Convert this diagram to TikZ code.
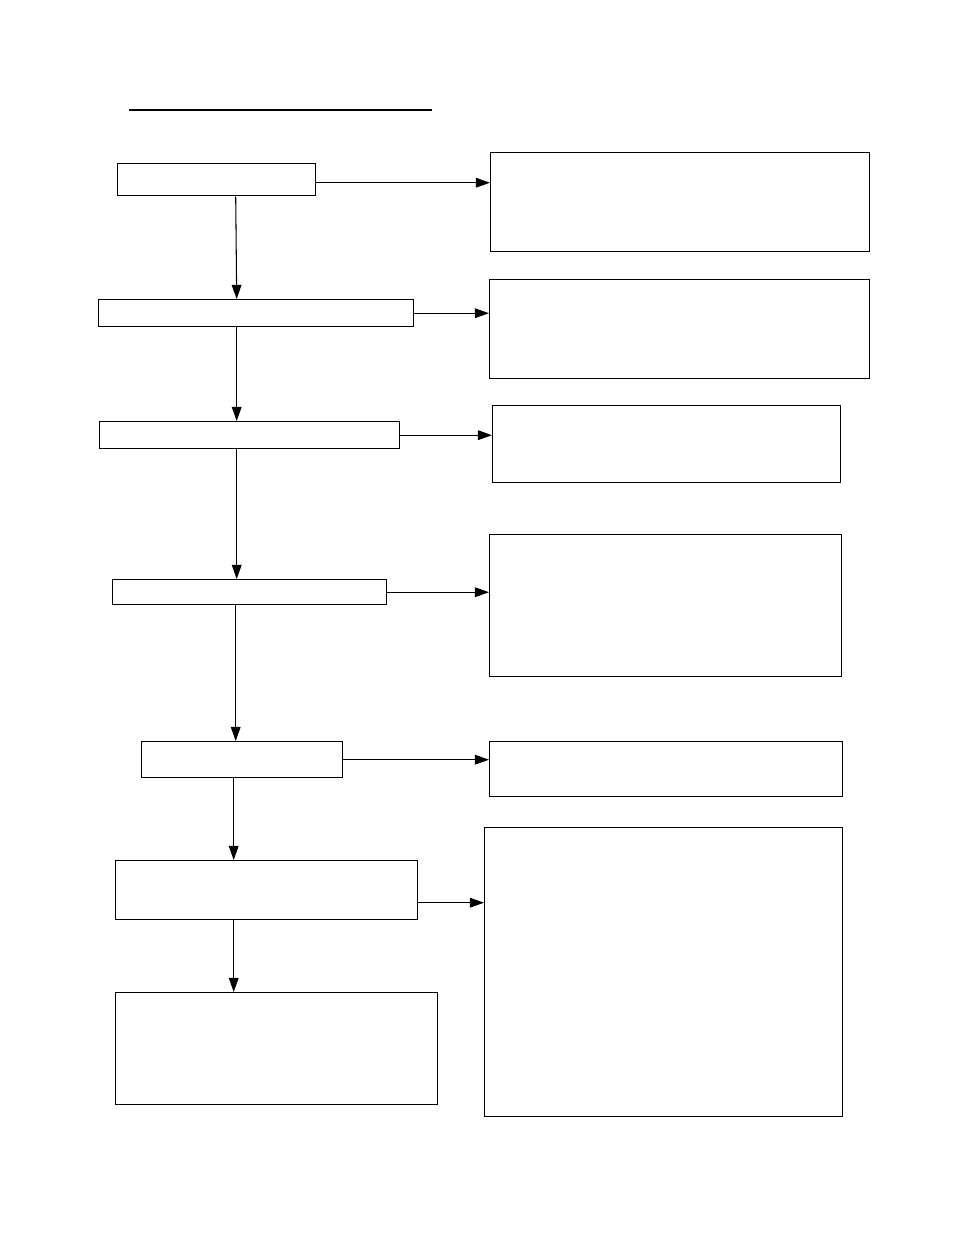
\documentclass[tikz,border=0pt]{standalone}
\usetikzlibrary{arrows.meta}
\newcommand\px[1]{#1*0.02cm}
\begin{document}
\begin{tikzpicture}[x=0.02cm,y=-0.02cm,box/.style={draw, thick, inner sep=0pt, anchor=north west},link/.style={semithick, -{Triangle[length=8pt,width=5.5pt]}}]%
\path[use as bounding box] (0,0) rectangle (954,1235);%
\draw[thick] (129,110) -- (432,110);%
  % left column%
\node[box, minimum width=\px{198}, minimum height=\px{32}] (step1) at (117,163) {};%
\node[box, minimum width=\px{315}, minimum height=\px{27}] (step2) at (98,299) {};%
\node[box, minimum width=\px{300}, minimum height=\px{27}] (step3) at (99,421) {};%
\node[box, minimum width=\px{274}, minimum height=\px{25}] (step4) at (112,579) {};%
\node[box, minimum width=\px{201}, minimum height=\px{36}] (step5) at (141,741) {};%
\node[box, minimum width=\px{302}, minimum height=\px{59}] (step6) at (115,860) {};%
\node[box, minimum width=\px{322}, minimum height=\px{112}] (step7) at (115,992) {};%
  % right column%
\node[box, minimum width=\px{379}, minimum height=\px{99}] (note1) at (490,152) {};%
\node[box, minimum width=\px{380}, minimum height=\px{99}] (note2) at (489,279) {};%
\node[box, minimum width=\px{348}, minimum height=\px{77}] (note3) at (492,405) {};%
\node[box, minimum width=\px{352}, minimum height=\px{142}] (note4) at (489,534) {};%
\node[box, minimum width=\px{353}, minimum height=\px{55}] (note5) at (489,741) {};%
\node[box, minimum width=\px{358}, minimum height=\px{289}] (note6) at (484,827) {};%
  % down arrows%
\draw[link] ([xshift=\px{19}]step1.south) -- ([xshift=\px{-19.5}]step2.north);%
\draw[link] ([xshift=\px{-19.5}]step2.south) -- ([xshift=\px{-13}]step3.north);%
\draw[link] ([xshift=\px{-13}]step3.south) -- ([xshift=\px{-13}]step4.north);%
\draw[link] ([xshift=\px{-14}]step4.south) -- ([xshift=\px{-6.5}]step5.north);%
\draw[link] ([xshift=\px{-8.5}]step5.south) -- ([xshift=\px{-33}]step6.north);%
\draw[link] ([xshift=\px{-33}]step6.south) -- ([xshift=\px{-43}]step7.north);%
  % side arrows%
\coordinate (out1) at ([yshift=\px{-3}]step1.east);%
\coordinate (out6) at ([yshift=\px{-12.5}]step6.east);%
\draw[link] (out1) -- (note1.west |- out1);%
\draw[link] (step2.east) -- (note2.west |- step2.east);%
\draw[link] (step3.east) -- (note3.west |- step3.east);%
\draw[link] (step4.east) -- (note4.west |- step4.east);%
\draw[link] (step5.east) -- (note5.west |- step5.east);%
\draw[link] (out6) -- (note6.west |- out6);%
\end{tikzpicture}
\end{document}
